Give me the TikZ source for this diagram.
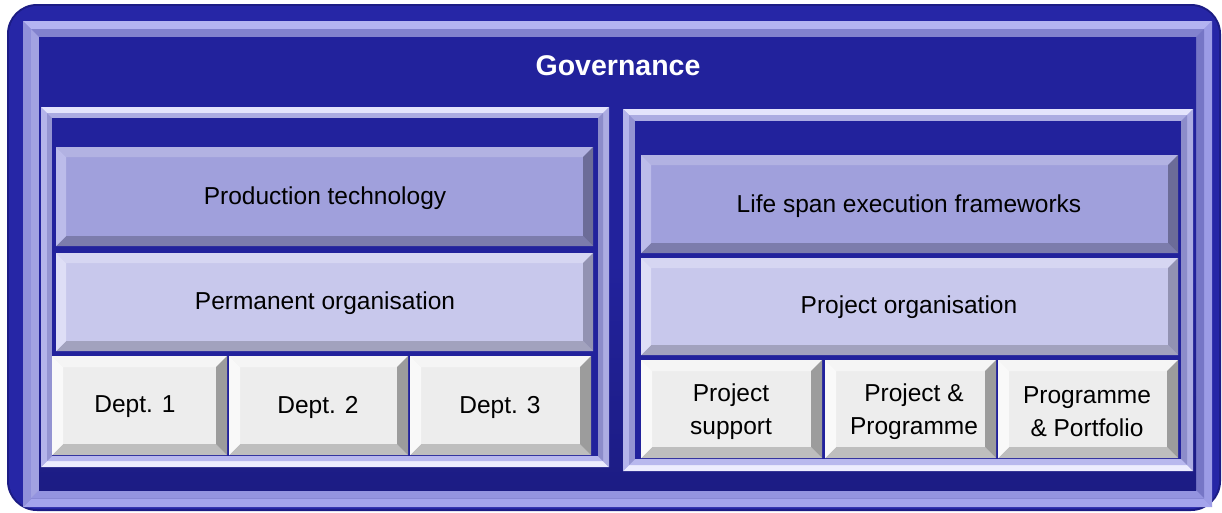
\documentclass[tikz,border=0pt]{standalone}
\usepackage{fontspec}
\setmainfont{Liberation Sans}
% colours
\definecolor{navy}{HTML}{22229C}
\definecolor{navyD}{HTML}{1C1C84}
\definecolor{rim}{HTML}{2626A6}
% outer frame, outer ring
\definecolor{oaT}{HTML}{B4B4F2}\definecolor{oaL}{HTML}{9090DA}\definecolor{oaR}{HTML}{9C9CE6}\definecolor{oaB}{HTML}{A4A4EC}\definecolor{oaF}{HTML}{8888D4}
% outer frame, inner ring
\definecolor{obT}{HTML}{8282CE}\definecolor{obL}{HTML}{A2A2E2}\definecolor{obR}{HTML}{7676C6}\definecolor{obB}{HTML}{9494E0}\definecolor{obF}{HTML}{8888D4}
% panel frames, outer ring
\definecolor{paT}{HTML}{E4E4FC}\definecolor{paL}{HTML}{B4B4EA}\definecolor{paR}{HTML}{ACACE2}\definecolor{paB}{HTML}{ECECFE}\definecolor{paF}{HTML}{B0B0E8}
% panel frames, inner ring
\definecolor{pbT}{HTML}{ACACE2}\definecolor{pbL}{HTML}{9494D2}\definecolor{pbR}{HTML}{8C8CCA}\definecolor{pbB}{HTML}{B8B8EE}\definecolor{pbF}{HTML}{B0B0E8}
% top boxes
\definecolor{t1F}{HTML}{A0A0DC}\definecolor{t1T}{HTML}{B2B2E2}\definecolor{t1L}{HTML}{BCBCEA}\definecolor{t1R}{HTML}{6C6C98}\definecolor{t1B}{HTML}{7C7CAC}
% middle boxes
\definecolor{t2F}{HTML}{C8C8EC}\definecolor{t2T}{HTML}{D6D6F2}\definecolor{t2L}{HTML}{DEDEF6}\definecolor{t2R}{HTML}{9292B2}\definecolor{t2B}{HTML}{A2A2BE}
% grey boxes
\definecolor{t3F}{HTML}{EDEDED}\definecolor{t3T}{HTML}{F5F5F5}\definecolor{t3L}{HTML}{F9F9F9}\definecolor{t3R}{HTML}{9C9C9C}\definecolor{t3B}{HTML}{BEBEBE}
% bevelled rectangle: x1 y1 x2 y2 width colour-prefix
\newcommand\bevbox[6]{%
  \fill[#6F] (#1,#2) rectangle (#3,#4);
  \fill[#6T] (#1,#2) -- (#3,#2) -- ({#3-#5},{#2+#5}) -- ({#1+#5},{#2+#5}) -- cycle;
  \fill[#6B] (#1,#4) -- (#3,#4) -- ({#3-#5},{#4-#5}) -- ({#1+#5},{#4-#5}) -- cycle;
  \fill[#6L] (#1,#2) -- ({#1+#5},{#2+#5}) -- ({#1+#5},{#4-#5}) -- (#1,#4) -- cycle;
  \fill[#6R] (#3,#2) -- ({#3-#5},{#2+#5}) -- ({#3-#5},{#4-#5}) -- (#3,#4) -- cycle;
}
\tikzset{
  lbl/.style={font=\fontsize{24.5}{33}\selectfont, text=black, align=center, inner sep=0pt},
  title/.style={font=\fontsize{28.5}{33}\selectfont\bfseries, text=white, inner sep=0pt}
}
\begin{document}
\begin{tikzpicture}[x=1pt,y=-1pt]
\useasboundingbox (0,0) rectangle (1222,512);
\fill[white] (0,0) rectangle (1222,512);
% outer rounded plate
\fill[navyD, rounded corners=30] (7,4) rectangle (1221,511);
\fill[rim, rounded corners=28] (9,6) rectangle (1219,509);
% outer bevel frame
\bevbox{23}{21}{1212}{507}{8}{oa}
\bevbox{31}{29}{1204}{498}{8}{ob}
\shade[top color=navy, bottom color=navyD, middle color=navy] (39,37) rectangle (1196,490);
% governance title
\node[title] (gov) at (618,66) {Governance};
% left panel
\bevbox{41}{107}{609}{467}{6}{pa}
\bevbox{47}{113}{603}{461}{5}{pb}
\fill[navy] (52,118) rectangle (598,456);
% right panel
\bevbox{623}{109}{1193}{471}{6}{pa}
\bevbox{629}{115}{1187}{465}{6}{pb}
\fill[navy] (635,121) rectangle (1181,459);
% left boxes
\bevbox{56}{147}{593}{246}{10}{t1}
\bevbox{56}{253}{593}{351}{10}{t2}
\bevbox{52}{356}{227}{455}{11}{t3}
\bevbox{229}{356}{408}{455}{11}{t3}
\bevbox{410}{356}{591}{455}{11}{t3}
% right boxes
\bevbox{641}{155}{1178}{253}{10}{t1}
\bevbox{641}{258}{1178}{355}{10}{t2}
\bevbox{641}{360}{822}{458}{11}{t3}
\bevbox{825}{360}{996}{458}{11}{t3}
\bevbox{998}{360}{1178}{458}{11}{t3}
% labels
\node[lbl] (prodtech) at (325,198) {Production technology};
\node[lbl] (permorg) at (325,303) {Permanent organisation};
\node[lbl] (d1) at (135,407) {Dept. 1};
\node[lbl] (d2) at (318,407) {Dept. 2};
\node[lbl] (d3) at (500,407) {Dept. 3};
\node[lbl] (life) at (909,206) {Life span execution frameworks};
\node[lbl] (projorg) at (909,307) {Project organisation};
\node[lbl] (psup) at (731,412) {Project\\support};
\node[lbl] (ppro) at (914,412) {Project \&\\Programme};
\node[lbl] (ppor) at (1087,412) {Programme\\\& Portfolio};
\end{tikzpicture}
\end{document}
